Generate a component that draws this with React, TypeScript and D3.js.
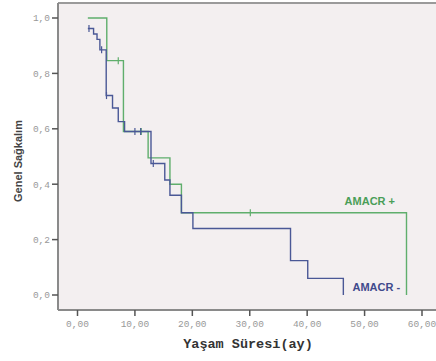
import React from "react";
import * as d3 from "d3";

// AMACR + (green)
const posTimes = [1.8, 5.1, 8.0, 12.3, 16.1, 18.1, 57.3];
const posSurv = [1.0, 0.846, 0.59, 0.495, 0.4, 0.297, 0.0];
const posCensor = [7.1, 11.1, 30.1];

// AMACR - (blue)
const negTimes = [1.8, 2.8, 3.4, 3.9, 5.0, 6.1, 7.1, 8.2, 12.8, 15.2, 16.1, 18.1, 20.1, 37.1, 40.1, 46.3];
const negSurv = [0.962, 0.942, 0.923, 0.885, 0.72, 0.675, 0.626, 0.59, 0.475, 0.415, 0.36, 0.297, 0.24, 0.124, 0.06, 0.0];
const negCensor = [2.0, 4.2, 5.05, 10.0, 11.0, 13.2];

const xTicks = [0, 10, 20, 30, 40, 50, 60];
const yTicks = [0, 0.2, 0.4, 0.6, 0.8, 1.0];

const groupLabels = ["AMACR +", "AMACR -"];
const xTitle = "Yaşam Süresi(ay)";
const yTitle = "Genel Sağkalım";

const W = 436;
const H = 361;

const x = d3.scaleLinear().domain([0, 60]).range([77.5, 422]);
const y = d3.scaleLinear().domain([0, 1]).range([295, 18]);

const line = d3
  .line<[number, number]>()
  .x((d) => x(d[0]))
  .y((d) => y(d[1]))
  .curve(d3.curveStepAfter);

function survAt(times: number[], surv: number[], t: number) {
  let v = surv[0];
  for (let i = 0; i < times.length; i++) if (times[i] <= t) v = surv[i];
  return v;
}

const fmtX = (v: number) => d3.format(".2f")(v).replace(".", ",");
const fmtY = (v: number) => d3.format(".1f")(v).replace(".", ",");

const GREEN = "#5fae6c";
const BLUE = "#4a5896";

export default function App() {
  const plotL = 58;
  const plotT = 3;
  const plotB = 310;
  const curves = [
    { times: posTimes, surv: posSurv, censor: posCensor, color: GREEN },
    { times: negTimes, surv: negSurv, censor: negCensor, color: BLUE },
  ];
  return (
    <svg
      width={W}
      height={H}
      style={{ position: "absolute", left: 0, top: 0, background: "#fff" }}
    >
      <rect x={plotL} y={plotT} width={W - plotL} height={plotB - plotT} fill="#f3eff0" />
      <line x1={plotL} x2={W} y1={plotT} y2={plotT} stroke="#9a9a9a" strokeWidth={2} />
      <line x1={plotL} x2={plotL} y1={plotT} y2={plotB} stroke="#8a8a8a" strokeWidth={2} />
      <line x1={plotL} x2={W} y1={plotB} y2={plotB} stroke="#8a8a8a" strokeWidth={2} />

      {yTicks.map((t) => (
        <g key={"y" + t}>
          <line x1={plotL - 6} x2={plotL} y1={y(t)} y2={y(t)} stroke="#555" strokeWidth={1.5} />
          <text
            x={plotL - 8}
            y={y(t)}
            dy="0.35em"
            textAnchor="end"
            fontFamily="Liberation Mono, monospace"
            fontSize={9.5}
            fill="#999"
          >
            {fmtY(t)}
          </text>
        </g>
      ))}
      {xTicks.map((t) => (
        <g key={"x" + t}>
          <line x1={x(t)} x2={x(t)} y1={plotB} y2={plotB + 6} stroke="#555" strokeWidth={1.5} />
          <text
            x={x(t)}
            y={plotB + 17}
            textAnchor="middle"
            fontFamily="Liberation Mono, monospace"
            fontSize={9.5}
            fill="#999"
          >
            {fmtX(t)}
          </text>
        </g>
      ))}

      {curves.map((c, i) => {
        const pts = c.times.map((t, j) => [t, c.surv[j]] as [number, number]);
        return (
          <g key={"c" + i}>
            <path d={line(pts) || ""} fill="none" stroke={c.color} strokeWidth={1.4} />
            {c.censor.map((t, k) => {
              const s = survAt(c.times, c.surv, t);
              return (
                <line
                  key={k}
                  x1={x(t)}
                  x2={x(t)}
                  y1={y(s) - 3.5}
                  y2={y(s) + 3.5}
                  stroke={c.color}
                  strokeWidth={1.2}
                />
              );
            })}
          </g>
        );
      })}

      <text
        x={x(55.3)}
        y={y(0.338)}
        dy="0.35em"
        textAnchor="end"
        fontFamily="Liberation Sans, Arial, sans-serif"
        fontWeight="bold"
        fontSize={11}
        fill="#4a9e58"
      >
        {groupLabels[0]}
      </text>
      <text
        x={x(56.2)}
        y={y(0.03)}
        dy="0.35em"
        textAnchor="end"
        fontFamily="Liberation Sans, Arial, sans-serif"
        fontWeight="bold"
        fontSize={11}
        fill="#3f4a8c"
      >
        {groupLabels[1]}
      </text>

      <text
        x={248}
        y={348}
        textAnchor="middle"
        fontFamily="Liberation Mono, monospace"
        fontWeight="bold"
        fontSize={13.5}
        fill="#333"
      >
        {xTitle}
      </text>
      <text
        transform={`translate(22,161) rotate(-90)`}
        textAnchor="middle"
        fontFamily="Liberation Sans, Arial, sans-serif"
        fontWeight="bold"
        fontSize={11}
        fill="#444"
      >
        {yTitle}
      </text>
    </svg>
  );
}
